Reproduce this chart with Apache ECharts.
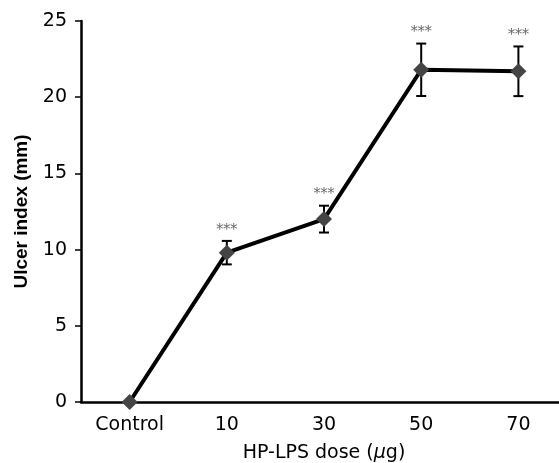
<!DOCTYPE html>
<html>
<head>
<meta charset="utf-8">
<script src="https://cdn.jsdelivr.net/npm/echarts@6/dist/echarts.min.js"></script>
<style>
  html, body { margin: 0; padding: 0; background: #fff; overflow: hidden; }
  #chart { width: 559px; height: 463px; }
</style>
</head>
<body>
<div id="chart"></div>
<script>
// values
var categories = ['Control', '10', '30', '50', '70']
var ulcerIndex = [0, 9.8, 12.0, 21.8, 21.7]
var errors = [0, 0.77, 0.88, 1.72, 1.63]
var marks = ['', '***', '***', '***', '***']
var yTicks = { min: 0, max: 25, interval: 5 }

var font = 'DejaVu Sans'

var errorData = categories.map(function (c, i) {
  return [i, ulcerIndex[i] - errors[i], ulcerIndex[i] + errors[i], marks[i]]
})

var myChart = echarts.init(document.getElementById('chart'), null, { renderer: 'canvas' })

var options = {
  animation: false,
  grid: {
    left: 81,
    top: 21,
    width: 486,
    height: 381,
    outerBoundsMode: 'none'
  },
  xAxis: {
    type: 'category',
    data: categories,
    name: '{n|HP-LPS dose (}{i|μ}{n|g)}',
    nameLocation: 'middle',
    nameGap: 42,
    nameTextStyle: {
      color: '#000',
      fontFamily: font,
      fontSize: 19,
      rich: {
        n: { fontFamily: font, fontSize: 19, color: '#000' },
        i: { fontFamily: font, fontSize: 19, color: '#000', fontStyle: 'italic' }
      }
    },
    axisLine: {
      lineStyle: { color: '#000', width: 2.5 }
    },
    axisTick: {
      length: 6,
      lineStyle: { color: '#000', width: 1.5 }
    },
    axisLabel: {
      color: '#000',
      fontFamily: font,
      fontSize: 19,
      margin: 14
    },
    splitLine: { show: false }
  },
  yAxis: {
    type: 'value',
    min: yTicks.min,
    max: yTicks.max,
    interval: yTicks.interval,
    name: 'Ulcer index (mm)',
    nameLocation: 'middle',
    nameGap: 50,
    nameTextStyle: {
      color: '#000',
      fontFamily: 'Liberation Sans',
      fontSize: 19,
      fontWeight: 'bold'
    },
    axisLine: {
      show: true,
      lineStyle: { color: '#000', width: 2.5 }
    },
    axisTick: {
      show: true,
      length: 6,
      lineStyle: { color: '#000', width: 1.5 }
    },
    axisLabel: {
      color: '#000',
      fontFamily: font,
      fontSize: 19,
      margin: 14
    },
    splitLine: { show: false }
  },
  series: [
    {
      type: 'custom',
      z: 1,
      data: errorData,
      renderItem: function (params, api) {
        var x = api.value(0)
        var lo = api.coord([x, api.value(1)])
        var hi = api.coord([x, api.value(2)])
        var label = api.value(3)
        var cap = 5
        var style = { stroke: '#000', lineWidth: 2 }
        var children = []
        if (hi[1] < lo[1] - 1) {
          children.push(
            { type: 'line', shape: { x1: lo[0], y1: hi[1], x2: lo[0], y2: lo[1] }, style: style },
            { type: 'line', shape: { x1: lo[0] - cap, y1: hi[1], x2: lo[0] + cap, y2: hi[1] }, style: style },
            { type: 'line', shape: { x1: lo[0] - cap, y1: lo[1], x2: lo[0] + cap, y2: lo[1] }, style: style }
          )
        }
        if (label) {
          children.push({
            type: 'text',
            style: {
              x: lo[0],
              y: hi[1] - 11,
              text: label,
              fill: '#666',
              font: '14px "DejaVu Serif"',
              align: 'center',
              verticalAlign: 'middle'
            }
          })
        }
        return { type: 'group', children: children }
      }
    },
    {
      type: 'line',
      z: 2,
      data: ulcerIndex,
      symbol: 'diamond',
      symbolSize: 16,
      lineStyle: { color: '#000', width: 4 },
      itemStyle: { color: '#444' }
    }
  ]
}

myChart.setOption(options)
</script>
</body>
</html>
